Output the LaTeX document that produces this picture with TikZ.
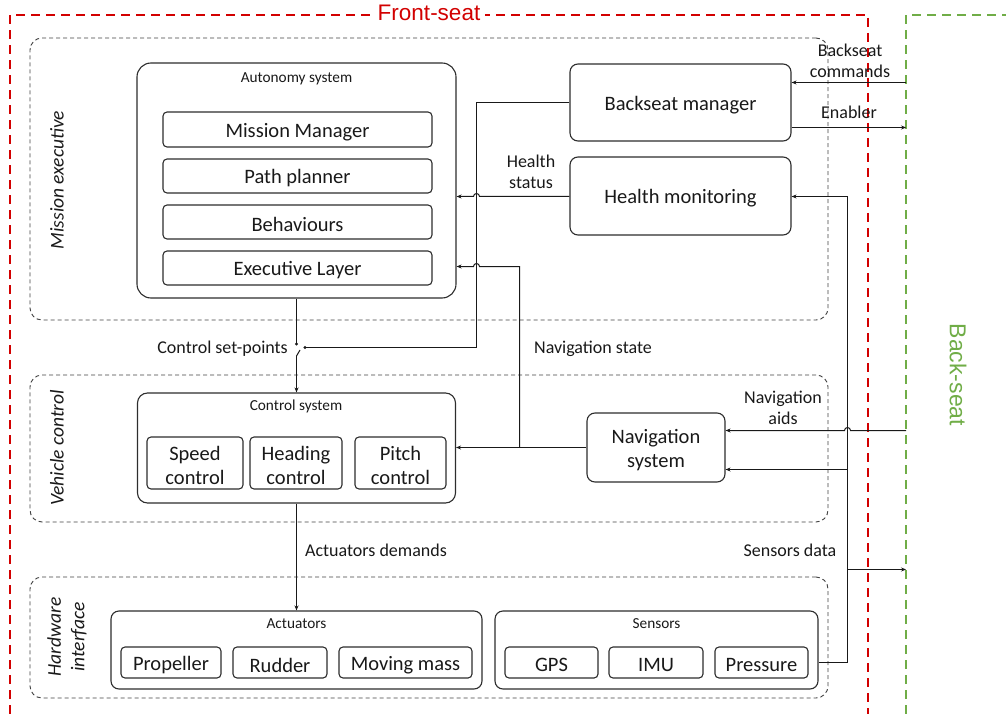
\documentclass[tikz,border=0pt]{standalone}
\usepackage{fontspec}
\setmainfont{Carlito}
\newfontfamily\arialf{Liberation Sans}
\usetikzlibrary{arrows.meta}
\definecolor{fsred}{RGB}{210,0,0}
\definecolor{bsgreen}{RGB}{112,173,71}
\definecolor{boxline}{RGB}{45,45,45}
\definecolor{txt}{RGB}{25,25,25}
\begin{document}
\begin{tikzpicture}[x=1pt,y=-1pt,
  every node/.style={text=txt},
  sect/.style={draw=black!75, dash pattern=on 4pt off 3pt, line width=0.9pt, rounded corners=12pt, inner sep=0pt},
  bigbox/.style={draw=boxline, line width=1.1pt, rounded corners=14pt, inner sep=0pt},
  btxt/.style={font=\fontsize{20.5}{24.5}\selectfont, align=center, inner sep=0pt, yshift=-2.5pt, text=txt},
  midbox/.style={draw=boxline, line width=1.1pt, rounded corners=8pt, inner sep=0pt},
  inbox/.style={draw=boxline, line width=1.1pt, rounded corners=4pt, inner sep=0pt},
  ttl/.style={font=\fontsize{15.3}{18}\selectfont, inner sep=0pt},
  lbl/.style={font=\fontsize{18}{21.5}\selectfont, inner sep=0pt, align=center},
  sectlbl/.style={font=\fontsize{19.5}{23.5}\selectfont\itshape, inner sep=0pt, align=center, rotate=90},
  arr/.style={-{Stealth[length=5pt,width=4pt]}, line width=1pt, draw=txt},
  ln/.style={line width=1pt, draw=txt},
]
\useasboundingbox (0,0) rectangle (1006,714);

% front-seat / back-seat regions
\draw[fsred, line width=2pt, dash pattern=on 9pt off 6pt] (10,714) -- (10,15) -- (868,15) -- (868,714);
\node[fill=white, text=fsred, font=\arialf\fontsize{22.5}{26}\selectfont, inner sep=5pt] (fs) at (429,13) {Front-seat};
\draw[bsgreen, line width=2pt, dash pattern=on 9pt off 6pt] (906,714) -- (906,15) -- (1006,15);
\node[text=bsgreen, font=\arialf\fontsize{23}{27}\selectfont, rotate=-90, inner sep=0pt] (bs) at (958,375) {Back-seat};

% sections
\node[sect, minimum width=798pt, minimum height=282pt] (me) at (429,179) {};
\node[sect, minimum width=798pt, minimum height=147pt] (vc) at (429,448.5) {};
\node[sect, minimum width=798pt, minimum height=121pt] (hi) at (429,637.5) {};
\node[sectlbl] (melbl) at (57,180) {Mission executive};
\node[sectlbl] (vclbl) at (57,448) {Vehicle control};
\node[sectlbl] (hilbl) at (67,637) {Hardware\\interface};

% autonomy system
\node[bigbox, minimum width=319pt, minimum height=235pt] (auto) at (296.5,180.5) {};
\node[ttl] (autot) at (296.5,79) {Autonomy system};
\node[inbox, minimum width=269pt, minimum height=35pt, label={[btxt]center:Mission Manager}] (mm) at (297.5,129.5) {};
\node[inbox, minimum width=269pt, minimum height=34pt, label={[btxt]center:Path planner}] (pp) at (297.5,176) {};
\node[inbox, minimum width=269pt, minimum height=34pt, label={[btxt]center:Behaviours}] (beh) at (297.5,222) {};
\node[inbox, minimum width=269pt, minimum height=34pt, label={[btxt]center:Executive Layer}] (exe) at (297.5,268) {};

\node[midbox, minimum width=221pt, minimum height=77pt, label={[btxt]center:Backseat manager}] (bsm) at (680.5,102.5) {};
\node[midbox, minimum width=221pt, minimum height=78pt, label={[btxt]center:Health monitoring}] (hm) at (680.5,196) {};

% control system
\node[bigbox, rounded corners=10pt, minimum width=318pt, minimum height=110pt] (cs) at (296.5,448) {};
\node[ttl] (cst) at (296,406) {Control system};
\node[inbox, minimum width=96pt, minimum height=52pt, label={[btxt]center:Speed\\control}] (spd) at (195,463) {};
\node[inbox, minimum width=92pt, minimum height=52pt, label={[btxt]center:Heading\\control}] (hdg) at (296,463) {};
\node[inbox, minimum width=91pt, minimum height=52pt, label={[btxt]center:Pitch\\control}] (pit) at (400.5,463) {};

\node[midbox, minimum width=138pt, minimum height=69pt, label={[btxt]center:Navigation\\system}] (nav) at (656,447.5) {};

% hardware
\node[bigbox, rounded corners=8pt, minimum width=371pt, minimum height=78pt] (act) at (296.5,650) {};
\node[ttl] (actt) at (296.5,624) {Actuators};
\node[inbox, minimum width=100pt, minimum height=31pt, label={[btxt]center:Propeller}] (prop) at (171,662.5) {};
\node[inbox, minimum width=94pt, minimum height=31pt, label={[btxt]center:Rudder}] (rud) at (280,662.5) {};
\node[inbox, minimum width=133pt, minimum height=31pt, label={[btxt]center:Moving mass}] (mov) at (405.5,662.5) {};

\node[bigbox, rounded corners=8pt, minimum width=323pt, minimum height=78pt] (sen) at (656.5,650) {};
\node[ttl] (sent) at (656.5,624) {Sensors};
\node[inbox, minimum width=93pt, minimum height=31pt, label={[btxt]center:GPS}] (gps) at (551.5,662.5) {};
\node[inbox, minimum width=94pt, minimum height=31pt, label={[btxt]center:IMU}] (imu) at (656,662.5) {};
\node[inbox, minimum width=93pt, minimum height=31pt, label={[btxt]center:Pressure}] (pres) at (761.5,662.5) {};

% coordinates
\coordinate (bsin) at (906,82.5);
\coordinate (bsout) at (906,127.5);
\coordinate (sw1) at (296.5,344);
\coordinate (sw2) at (305,347.5);
\coordinate (sw3) at (296.5,356);
\coordinate (sw4) at (300,350);
\coordinate (bsa) at (476.5,102.5);
\coordinate (bsb) at (476.5,347.5);
\coordinate (hmy) at (0,196.5);
\coordinate (hop1) at (479.5,196.5);
\coordinate (ns1) at (519.5,447.5);
\coordinate (ns2) at (519.5,266.5);
\coordinate (hop2) at (479.5,266.5);
\coordinate (sd1) at (847.5,662.5);
\coordinate (sd2) at (847.5,196.5);
\coordinate (sd3) at (847.5,569.5);
\coordinate (sdout) at (906,569.5);
\coordinate (sd4) at (847.5,469.5);
\coordinate (nain) at (906,430.5);
\coordinate (hop3) at (850.5,430.5);

% connectors
\draw[arr] (bsin) -- (bsin -| bsm.east);
\draw[arr] (bsm.east |- bsout) -- (bsout);
\draw[ln] (bsm.west |- bsa) -- (bsa) -- (bsb) -- (sw2);
\draw[ln] (auto.south -| sw1) -- (sw1);
\fill[txt] (sw1) circle (1.7);
\fill[txt] (sw2) circle (1.7);
\draw[ln] (sw3) -- (sw4);
\draw[arr] (sw3) -- (sw3 |- cs.north);

\draw[arr] (hm.west |- hmy) -- (hop1) arc (0:-180:3) -- (auto.east |- hmy);
\draw[arr] (nav.west) -- (cs.east |- nav.west);
\draw[arr] (ns1) -- (ns2) -- (hop2) arc (0:-180:3) -- (auto.east |- ns2);
\draw[arr] (cs.south) -- (cs.south |- act.north);

\draw[arr] (sen.east |- pres.east) -- (sd1) -- (sd2) -- (hm.east |- sd2);
\draw[arr] (sd3) -- (sdout);
\draw[arr] (sd4) -- (nav.east |- sd4);
\draw[arr] (nain) -- (hop3) arc (0:-180:3) -- (nav.east |- nain);

% labels
\node[lbl] (l1) at (850,61) {Backseat\\commands};
\node[lbl] (l2) at (849,112) {Enabler};
\node[lbl] (l3) at (531,172) {Health\\status};
\node[lbl, anchor=east] (l4) at (288,349) {Control set-points};
\node[lbl] (l5) at (593,349) {Navigation state};
\node[lbl] (l6) at (783,408) {Navigation\\aids};
\node[lbl] (l7) at (376,550) {Actuators demands};
\node[lbl] (l8) at (790,550) {Sensors data};
\end{tikzpicture}
\end{document}
